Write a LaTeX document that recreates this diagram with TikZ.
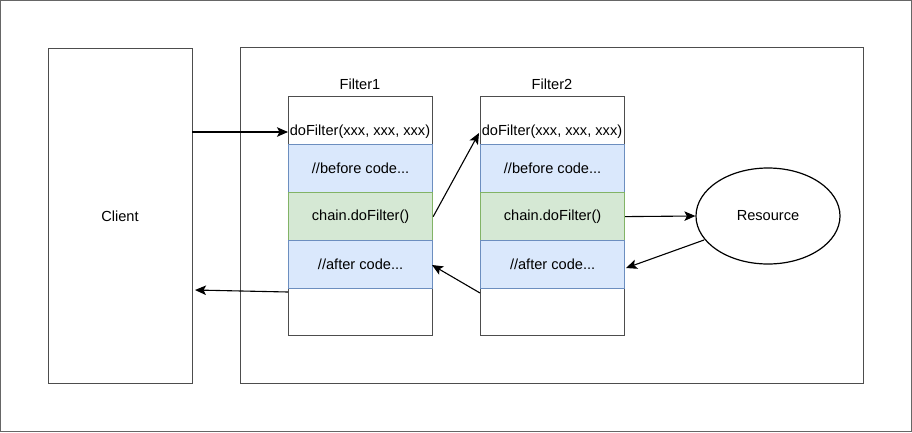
\documentclass[tikz,border=0pt]{standalone}
\usepackage{fontspec}
\setmainfont{Liberation Sans}
\usetikzlibrary{arrows.meta,shapes.geometric}
\definecolor{bluefill}{HTML}{DAE8FC}
\definecolor{bluedraw}{HTML}{6C8EBF}
\definecolor{greenfill}{HTML}{D5E8D4}
\definecolor{greendraw}{HTML}{82B366}
\definecolor{boxdraw}{HTML}{4D4D4D}
\begin{document}
\begin{tikzpicture}[x=1pt,y=-1pt,
  every node/.style={font=\fontsize{14.6}{17}\selectfont},
  plainbox/.style={draw=boxdraw,line width=1.3pt,inner sep=0pt,anchor=north west},
  rowblue/.style={draw=bluedraw,fill=bluefill,line width=1.2pt,minimum width=144pt,minimum height=48pt,inner sep=0pt,anchor=north west},
  rowgreen/.style={draw=greendraw,fill=greenfill,line width=1.2pt,minimum width=144pt,minimum height=48pt,inner sep=0pt,anchor=north west},
  conn/.style={line width=1.1pt,-{Stealth[length=11pt,width=9.5pt,inset=2.5pt]}}
]
\useasboundingbox (0,0) rectangle (912,432);
\draw[draw=black!60,line width=1pt] (0.5,0.5) rectangle (911.5,431.5);
% client
\node[plainbox,minimum width=144pt,minimum height=335pt] (client) at (48,48) {};
\node (clienttxt) at (120,216) {Client};
% container
\node[plainbox,minimum width=623pt,minimum height=336pt] (cont) at (240,47) {};
% Filter1
\node[plainbox,minimum width=144pt,minimum height=239pt] (f1) at (288,96) {};
\node (f1title) at (360,84) {Filter1};
\node[inner sep=0pt] (f1do) at (360,132) {doFilter(xxx, xxx, xxx)};
\node[rowblue] (f1before) at (288,144) {};
\node at (f1before.center) {//before code...};
\node[rowgreen] (f1chain) at (288,192) {};
\node at (f1chain.center) {chain.doFilter()};
\node[rowblue] (f1after) at (288,240) {};
\node at (f1after.center) {//after code...};
% Filter2
\node[plainbox,minimum width=144pt,minimum height=239pt] (f2) at (480,96) {};
\node (f2title) at (552,84) {Filter2};
\node[inner sep=0pt] (f2do) at (552,132) {doFilter(xxx, xxx, xxx)};
\node[rowblue] (f2before) at (480,144) {};
\node at (f2before.center) {//before code...};
\node[rowgreen] (f2chain) at (480,192) {};
\node at (f2chain.center) {chain.doFilter()};
\node[rowblue] (f2after) at (480,240) {};
\node at (f2after.center) {//after code...};
% Resource
\node[draw=black,line width=1.2pt,ellipse,minimum width=144pt,minimum height=96pt,inner sep=0pt] (res) at (768,216) {Resource};
% connectors
\coordinate (c1s) at (192,132);
\coordinate (c1e) at (288,132);
\draw[conn] (c1s) -- (c1e);
\coordinate (c2e) at (479,133);
\draw[conn] (f1chain.east) -- (c2e);
\draw[conn] (f2chain.east) -- (res.west);
\coordinate (c4s) at (704,240);
\coordinate (c4e) at (626,268);
\draw[conn] (c4s) -- (c4e);
\coordinate (c5s) at (480,293);
\coordinate (c5e) at (432,265);
\draw[conn] (c5s) -- (c5e);
\coordinate (c6s) at (288,292);
\coordinate (c6e) at (195,290);
\draw[conn] (c6s) -- (c6e);
\end{tikzpicture}
\end{document}
